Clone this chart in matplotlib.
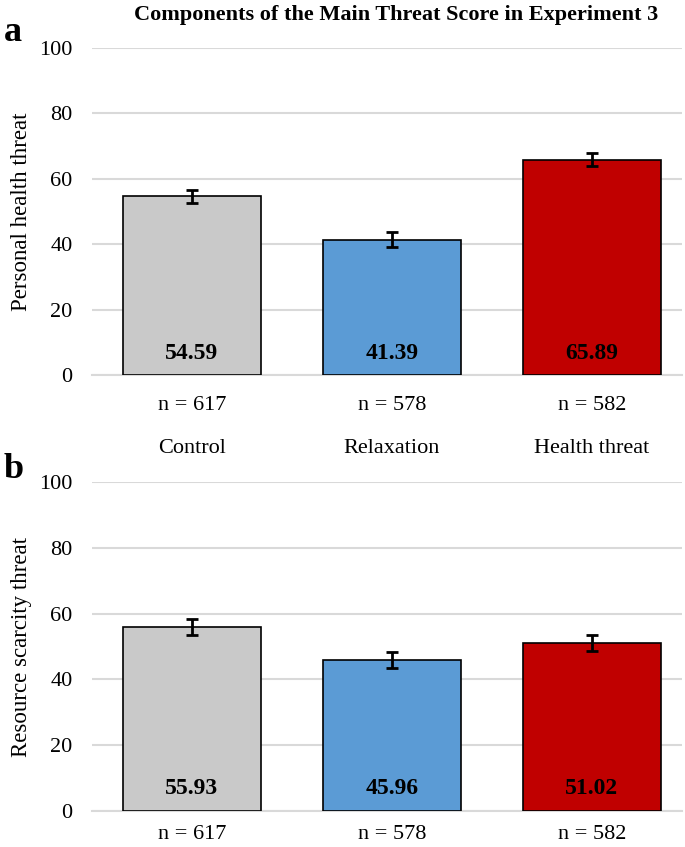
import matplotlib
matplotlib.use("Agg")
import matplotlib.pyplot as plt

plt.rcParams['font.family'] = ['Liberation Serif', 'DejaVu Serif']

groups = ["Control", "Relaxation", "Health threat"]
n_labels = ["n = 617", "n = 578", "n = 582"]
colors = ["#c9c9c9", "#5b9bd5", "#c00000"]

health_means = [54.59, 41.39, 65.89]
health_err = [2.1, 2.3, 2.1]
resource_means = [55.93, 45.96, 51.02]
resource_err = [2.3, 2.5, 2.5]

fig = plt.figure(figsize=(6.85, 8.47), dpi=100)
ax_a = fig.add_axes([92 / 685, 1 - 375 / 847, 590 / 685, 327 / 847])
ax_b = fig.add_axes([92 / 685, 1 - 811 / 847, 590 / 685, 329 / 847])


def draw_panel(ax, means, errs, ylabel, show_groups):
    x = range(len(groups))
    ax.bar(x, means, width=0.69, color=colors, edgecolor="black", linewidth=1.2, zorder=3)
    ax.errorbar(x, means, yerr=errs, fmt="none", ecolor="black", elinewidth=2,
                capsize=4, capthick=2, zorder=4)
    for i, m in enumerate(means):
        ax.text(i, 3.5, f"{m:.2f}", ha="center", va="bottom", fontsize=17,
                fontweight="bold", zorder=5)
    ax.set_ylim(0, 100)
    ax.set_xlim(-0.5, 2.45)
    ax.set_yticks([0, 20, 40, 60, 80, 100])
    ax.yaxis.grid(True, color="#d9d9d9", linewidth=1.5, zorder=0)
    ax.set_axisbelow(True)
    for s in ["top", "right", "left"]:
        ax.spines[s].set_visible(False)
    ax.spines["bottom"].set_color("#d9d9d9")
    ax.spines["bottom"].set_linewidth(1.5)
    ax.tick_params(axis="y", length=0, labelsize=16, pad=14)
    ax.tick_params(axis="x", length=0)
    ax.set_xticks(list(x))
    if show_groups:
        ax.set_xticklabels([f"{n}\n\n{g}" for n, g in zip(n_labels, groups)],
                           fontsize=16, linespacing=1.2)
        ax.tick_params(axis="x", pad=15)
    else:
        ax.set_xticklabels(n_labels, fontsize=16)
        ax.tick_params(axis="x", pad=10)
    ax.set_ylabel(ylabel, fontsize=16.5, labelpad=5)


draw_panel(ax_a, health_means, health_err, "Personal health threat", True)
draw_panel(ax_b, resource_means, resource_err, "Resource scarcity threat", False)

fig.text(0.578, 0.982, "Components of the Main Threat Score in Experiment 3",
         ha="center", va="center", fontsize=16, fontweight="bold")
fig.text(0.005, 0.962, "a", ha="left", va="center", fontsize=26, fontweight="bold")
fig.text(0.005, 0.446, "b", ha="left", va="center", fontsize=26, fontweight="bold")

fig.savefig("out.png", dpi=100)
